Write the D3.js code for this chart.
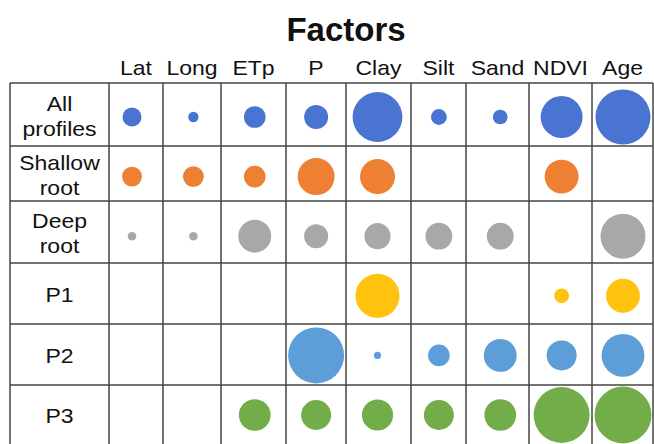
<!DOCTYPE html>
<html>
<head>
<meta charset="utf-8">
<script src="https://cdn.jsdelivr.net/npm/d3@7"></script>
<style>
  html, body { margin: 0; padding: 0; background: #fff; }
  svg { display: block; font-family: "Liberation Sans", Arial, Helvetica, sans-serif; }
</style>
</head>
<body>
<svg id="chart" width="654" height="444"></svg>
<script>
// Factors (columns) and profile groups (rows)
const factors = ["Lat", "Long", "ETp", "P", "Clay", "Silt", "Sand", "NDVI", "Age"];
const groups = ["All profiles", "Shallow root", "Deep root", "P1", "P2", "P3"];

// Relative importance of each factor per group (null = not selected)
const allProfiles = [10, 3, 13, 16, 69, 7, 6, 49, 84];
const shallowRoot = [11, 12, 13, 38, 34, null, null, 32, null];
const deepRoot    = [2, 2, 30, 16, 19, 20, 20, null, 56];
const p1          = [null, null, null, null, 54, null, null, 6, 32];
const p2          = [null, null, null, 87, 1.4, 13, 30, 25, 51];
const p3          = [null, null, 28, 25, 27, 25, 28, 87, 90];

const groupValues = [allProfiles, shallowRoot, deepRoot, p1, p2, p3];
const groupColors = ["#4a74d2", "#ee8034", "#a8a8a8", "#ffc20e", "#5d9ed8", "#72ad4a"];

// Table layout: cell edges of the grid
const colEdges = [10, 109, 163, 221, 286, 346, 411, 466, 529, 592, 653];
const rowEdges = [83, 146, 201, 263, 324, 385, 445];

// Labels are drawn in a slightly wide face
const STRETCH = 1.15;

const svg = d3.select("#chart");

// Bubble positions and size
const x = d3.scalePoint().domain(factors).range([132, 623]);
const y = d3.scalePoint().domain(groups).range([117, 415]);
const r = d3.scaleSqrt().domain([0, 100]).range([0, 30]);
const color = d3.scaleOrdinal().domain(groups).range(groupColors);

// Places a centred, horizontally widened label with its baseline at (cx, by)
function label(parent, cx, by, str, size, weight) {
  return parent.append("text")
    .attr("transform", `translate(${cx},${by}) scale(${STRETCH},1)`)
    .attr("text-anchor", "middle")
    .attr("font-size", size)
    .attr("font-weight", weight || "normal")
    .attr("fill", "#111")
    .text(str);
}

// Title
svg.append("text")
  .attr("x", 346).attr("y", 41)
  .attr("text-anchor", "middle")
  .attr("font-size", 33).attr("font-weight", "bold")
  .attr("fill", "#111")
  .text("Factors");

// Column headers
const colCenter = i => (colEdges[i + 1] + colEdges[i + 2]) / 2;
const headers = svg.append("g");
factors.forEach((f, i) => label(headers, colCenter(i), 75, f, 20));

// Row labels (two-word labels wrap onto two lines)
const rowCenter = i => (rowEdges[i] + rowEdges[i + 1]) / 2;
const rowG = svg.append("g");
const labelX = (colEdges[0] + colEdges[1]) / 2;
groups.forEach((g, i) => {
  const words = g.split(" ");
  if (words.length === 1) {
    label(rowG, labelX, rowCenter(i) + 8, words[0], 20);
  } else {
    label(rowG, labelX, rowCenter(i) - 4, words[0], 20);
    label(rowG, labelX, rowCenter(i) + 21, words[1], 20);
  }
});

// Bubbles
const cells = [];
groups.forEach((g, gi) => {
  factors.forEach((f, fi) => {
    const v = groupValues[gi][fi];
    if (v != null) cells.push({ group: g, factor: f, value: v });
  });
});
svg.append("g").selectAll("circle")
  .data(cells)
  .join("circle")
  .attr("cx", d => x(d.factor))
  .attr("cy", d => y(d.group))
  .attr("r", d => r(d.value))
  .attr("fill", d => color(d.group));

// Grid lines
const grid = svg.append("g").attr("stroke", "#444").attr("stroke-width", 1.5);
grid.selectAll("line.v")
  .data(colEdges)
  .join("line")
  .attr("class", "v")
  .attr("x1", d => d).attr("x2", d => d)
  .attr("y1", rowEdges[0]).attr("y2", rowEdges[rowEdges.length - 1]);
grid.selectAll("line.h")
  .data(rowEdges)
  .join("line")
  .attr("class", "h")
  .attr("x1", colEdges[0]).attr("x2", colEdges[colEdges.length - 1])
  .attr("y1", d => d).attr("y2", d => d);
</script>
</body>
</html>
